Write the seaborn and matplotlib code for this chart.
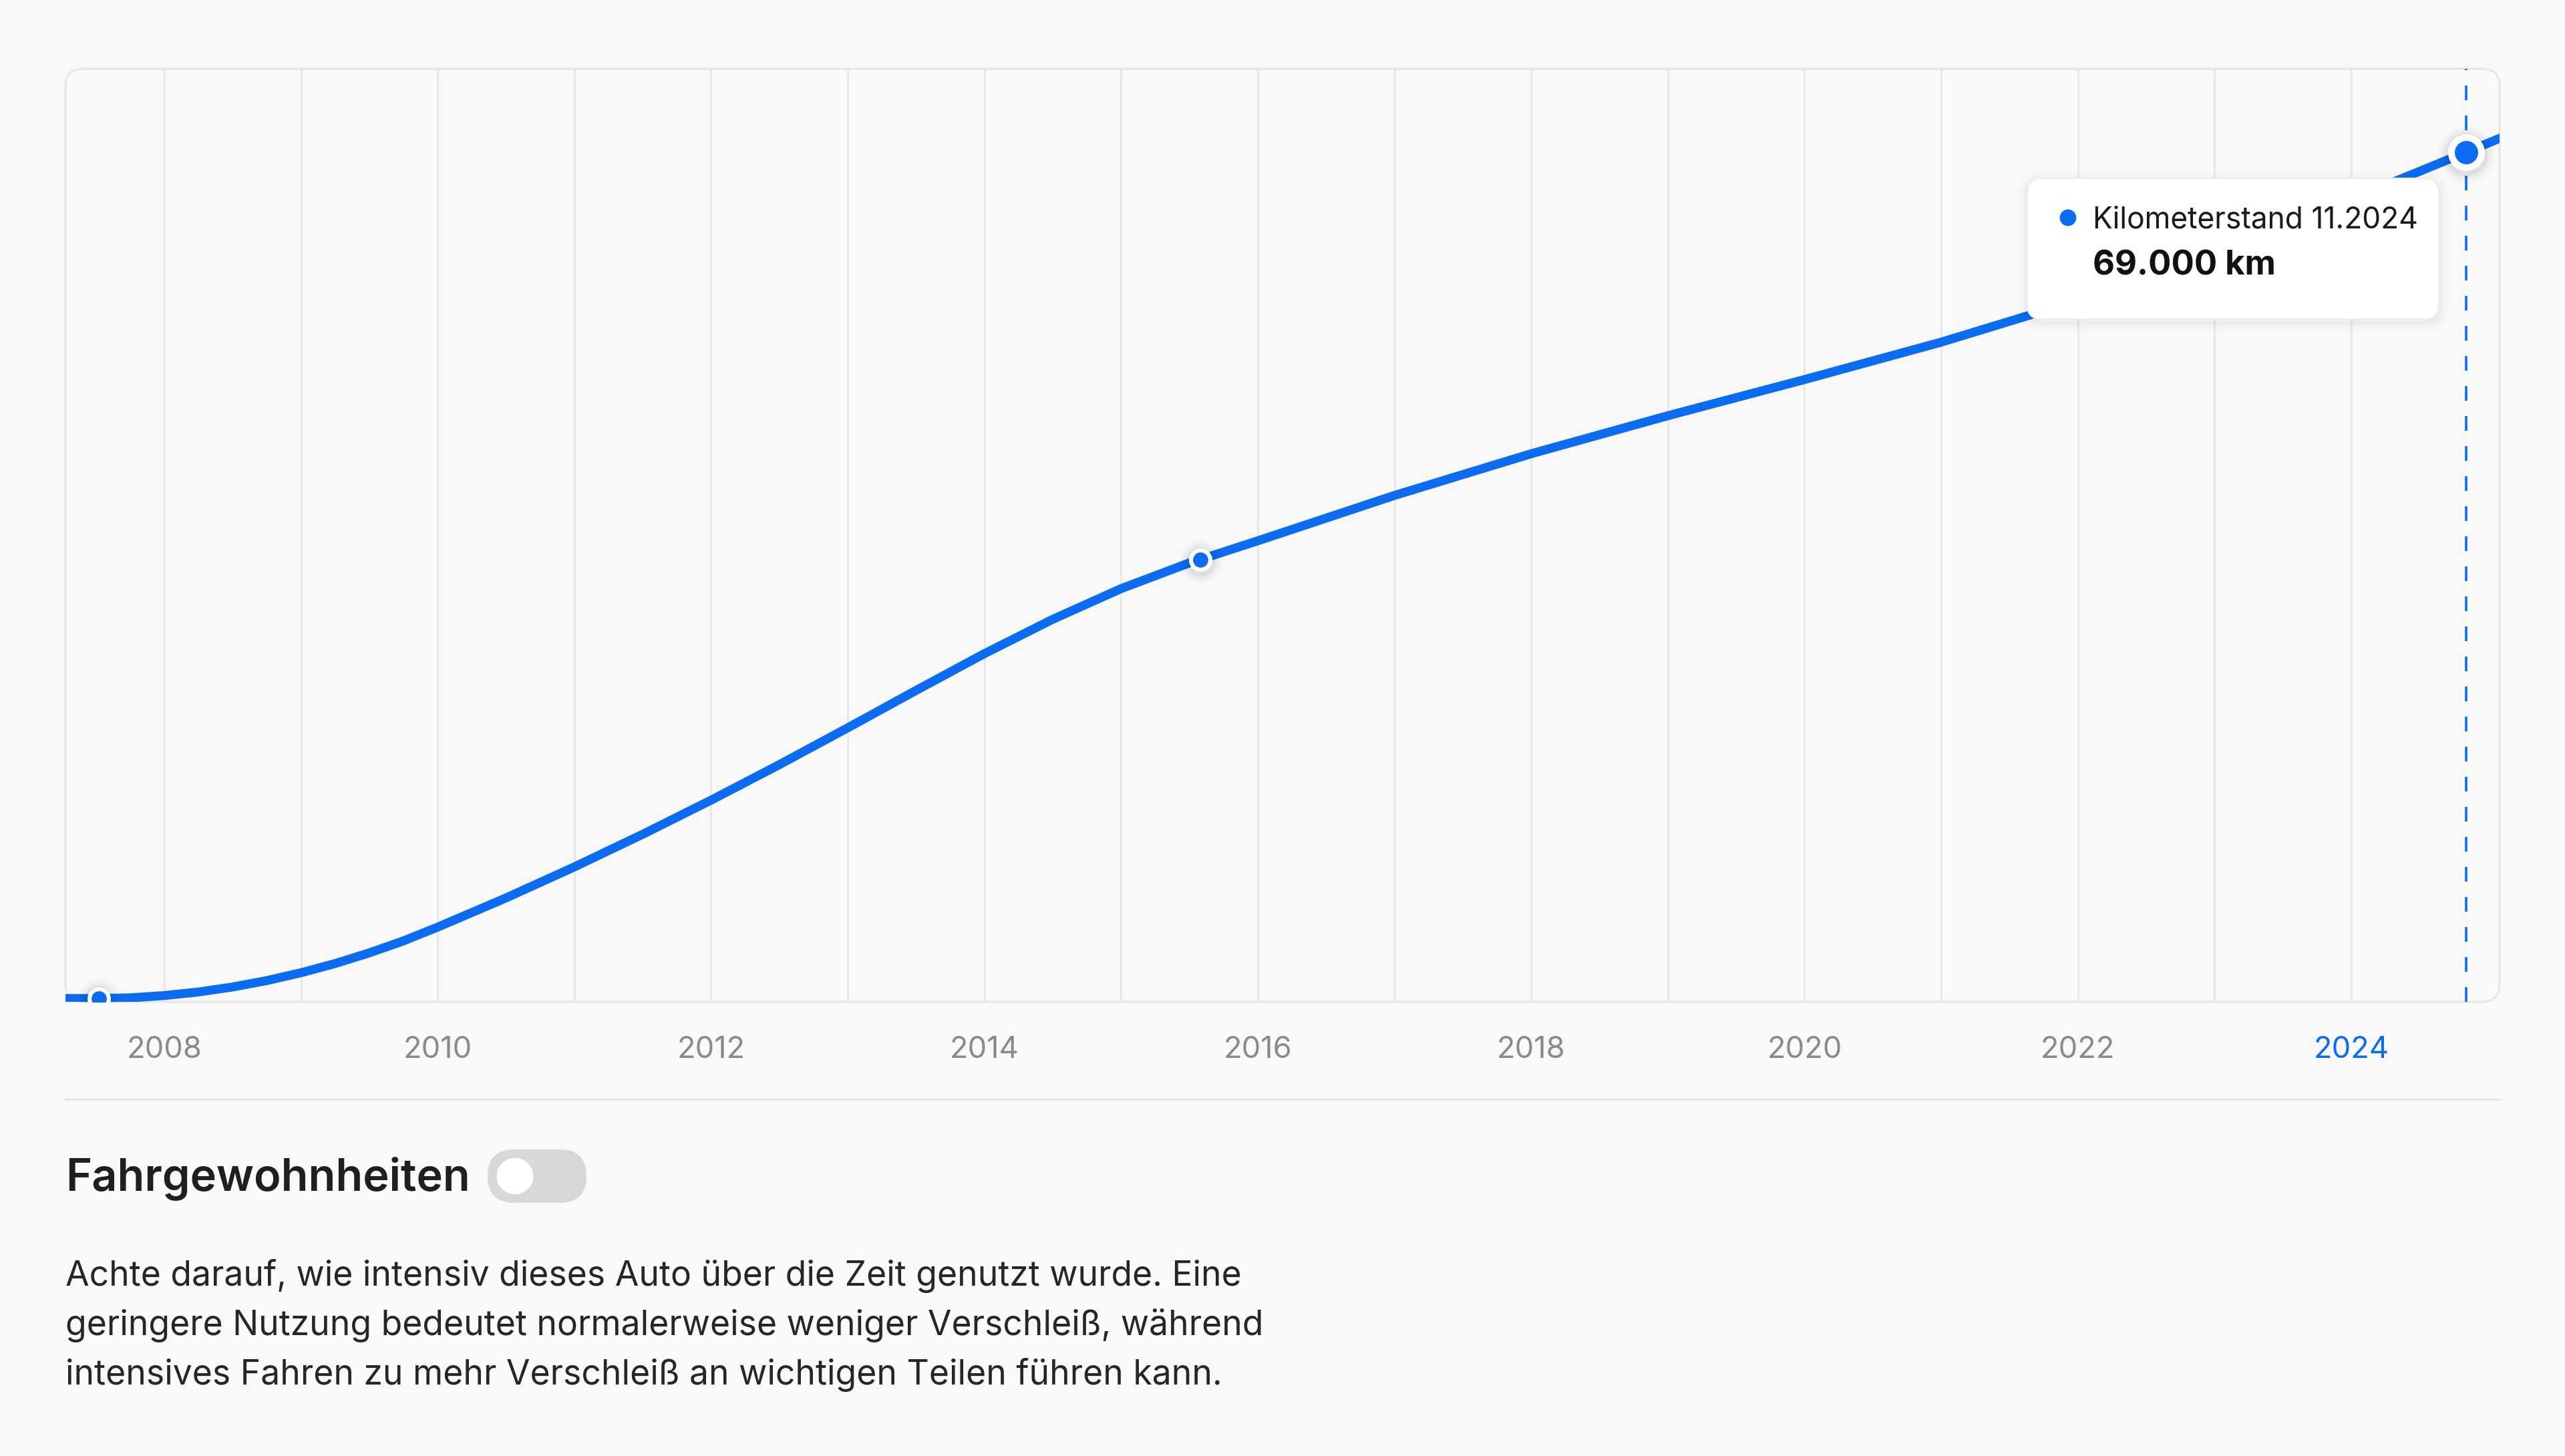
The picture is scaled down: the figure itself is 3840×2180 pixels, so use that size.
import numpy as np
import pandas as pd
import matplotlib.pyplot as plt
import matplotlib.transforms as mtransforms
import seaborn as sns
from matplotlib.patches import FancyBboxPatch, Circle

# mileage curve (decimal year, km)
curve_years = [2007.28, 2007.52, 2007.75, 2008.0, 2008.25, 2008.5, 2008.75, 2009.0,
               2009.25, 2009.5, 2009.75, 2010.0, 2010.5, 2011.0, 2011.5, 2012.0,
               2012.5, 2013.0, 2013.5, 2014.0, 2014.5, 2015.0, 2015.5, 2015.58,
               2016.0, 2017.0, 2018.0, 2019.0, 2020.0, 2021.0, 2022.0, 2023.0,
               2024.0, 2024.84, 2025.09]
curve_km = [0, 0, 55, 240, 530, 940, 1460, 2100,
            2850, 3720, 4700, 5820, 8200, 10730, 13390, 16170,
            19070, 22070, 25120, 28120, 30920, 33420, 35520, 35800,
            37320, 41020, 44420, 47520, 50470, 53520, 56920, 60820,
            65170, 69000, 70160]

# recorded odometer readings (the dots)
reading_years = [2007.52, 2015.58, 2024.84]
reading_km = [0, 35800, 69000]

tick_years = [2008, 2010, 2012, 2014, 2016, 2018, 2020, 2022, 2024]
tick_labels = ["2008", "2010", "2012", "2014", "2016", "2018", "2020", "2022", "2024"]
grid_years = list(range(2008, 2025))

tooltip_title = "Kilometerstand 11.2024"
tooltip_value = "69.000 km"
heading = "Fahrgewohnheiten"
paragraph = [
    "Achte darauf, wie intensiv dieses Auto über die Zeit genutzt wurde. Eine",
    "geringere Nutzung bedeutet normalerweise weniger Verschleiß, während",
    "intensives Fahren zu mehr Verschleiß an wichtigen Teilen führen kann.",
]

BLUE = "#0b6cf1"
BG = "#f9f9f9"
W, H, DPI = 3840, 2180, 200

sns.set_theme(style="white")
plt.rcParams["font.family"] = ["Inter", "DejaVu Sans"]
plt.rcParams["lines.scale_dashes"] = False

fig = plt.figure(figsize=(W / DPI, H / DPI), dpi=DPI, facecolor=BG)

# background layer in pixel coordinates
bg = fig.add_axes([0, 0, 1, 1], zorder=0)
bg.set_xlim(0, W)
bg.set_ylim(H, 0)
bg.axis("off")
bg.add_patch(FancyBboxPatch((98, 103), 3644, 1397,
                            boxstyle="round,pad=0,rounding_size=26",
                            facecolor=BG, edgecolor="#e6e6e6", linewidth=1.1))
bg.plot([98, 3742], [1646, 1646], color="#e6e6e6", linewidth=1.1)

# main chart
x0, x1, y0, y1 = 98, 3742, 103, 1500
ax = fig.add_axes([x0 / W, 1 - y1 / H, (x1 - x0) / W, (y1 - y0) / H], zorder=1)
ax.patch.set_alpha(0)
for s in ax.spines.values():
    s.set_visible(False)

for g in grid_years:
    ax.axvline(g, color="#e8e8e8", linewidth=1.1, zorder=0)

sns.lineplot(x=curve_years, y=curve_km, ax=ax, color=BLUE, linewidth=4.8,
             solid_capstyle="round", solid_joinstyle="round", zorder=3)

ax.axvline(reading_years[-1], color=BLUE, linewidth=1.3, dashes=(7.9, 8.3), zorder=2)

# soft shadows behind the dots
for grow, alpha in [(10, 0.05), (20, 0.03), (30, 0.02)]:
    sh = mtransforms.offset_copy(ax.transData, fig=fig, x=0, y=-3, units="dots")
    ax.scatter(reading_years[:-1], reading_km[:-1], s=(12.6 + grow * 0.36) ** 2,
               color="black", alpha=alpha, linewidth=0, transform=sh, zorder=4)
    ax.scatter(reading_years[-1:], reading_km[-1:], s=(19.8 + grow * 0.36) ** 2,
               color="black", alpha=alpha, linewidth=0, transform=sh, zorder=4)

sns.scatterplot(x=reading_years[:-1], y=reading_km[:-1], ax=ax, s=10.4 ** 2,
                color=BLUE, edgecolor="white", linewidth=2.2, zorder=5)
sns.scatterplot(x=reading_years[-1:], y=reading_km[-1:], ax=ax, s=16.2 ** 2,
                color=BLUE, edgecolor="white", linewidth=3.6, zorder=5)

ax.set_xlim(2007.277, 2025.085)
ax.set_ylim(-272, 75810)
ax.set_yticks([])
ax.set_xticks(tick_years, tick_labels)
ax.tick_params(axis="x", length=0, pad=18.3, labelsize=16.3, labelcolor="#8a8a8a")
ax.get_xticklabels()[-1].set_color(BLUE)
ax.set_xlabel("")
ax.set_ylabel("")

# top layer: tooltip and text below the chart
top = fig.add_axes([0, 0, 1, 1], zorder=3)
top.set_xlim(0, W)
top.set_ylim(H, 0)
top.axis("off")
top.patch.set_alpha(0)

for d, a in [(4, 0.025), (9, 0.015), (14, 0.01)]:
    top.add_patch(FancyBboxPatch((3035 - d, 267 - d + 4), 616 + 2 * d, 211 + 2 * d,
                                 boxstyle=f"round,pad=0,rounding_size={22 + d}",
                                 facecolor="black", edgecolor="none", alpha=a))
top.add_patch(FancyBboxPatch((3035, 267), 616, 211,
                             boxstyle="round,pad=0,rounding_size=22",
                             facecolor="white", edgecolor="#ededed", linewidth=0.8))
top.add_patch(Circle((3096, 326), 11, color=BLUE))
top.text(3133, 342, tooltip_title, fontsize=15.95, color="#1a1a1a", va="baseline")
top.text(3133, 412, tooltip_value, fontsize=18.3, fontweight="bold", color="#111111",
         va="baseline")

top.text(98, 1782, heading, fontsize=24, fontweight="semibold", color="#1f1f1f",
         va="baseline")
top.add_patch(FancyBboxPatch((730, 1721), 148, 80,
                             boxstyle="round,pad=0,rounding_size=40",
                             facecolor="#d8d8d8", edgecolor="none"))
top.add_patch(Circle((771, 1761), 26, color="white"))

for i, line in enumerate(paragraph):
    top.text(98, 1925 + 74 * i, line, fontsize=18.6, color="#262626", va="baseline")

fig.savefig("out.png", dpi=DPI, facecolor=BG)
